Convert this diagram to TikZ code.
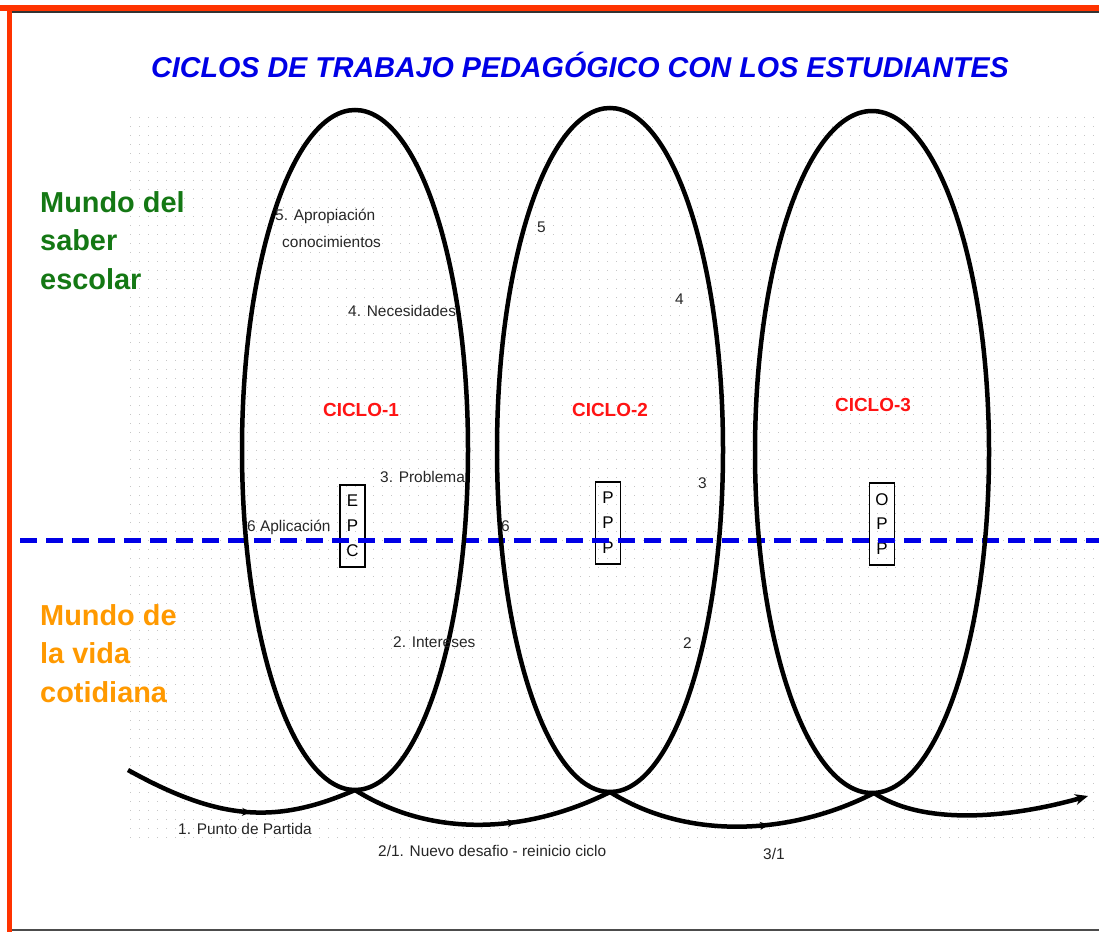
\documentclass[tikz,border=0pt]{standalone}
\usepackage{fontspec}
\setmainfont{Liberation Sans}
\usetikzlibrary{arrows.meta, decorations.markings}

\definecolor{bordred}{RGB}{255,51,0}
\definecolor{titleblue}{RGB}{0,0,230}
\definecolor{saber}{RGB}{20,120,20}
\definecolor{vida}{RGB}{255,153,0}
\definecolor{cicred}{RGB}{255,20,20}

\begin{document}
\begin{tikzpicture} [
						x=1bp, y=-1bp,
						spiral/.style={line width=4.5bp, black},
						midarrow/.style={postaction={decorate}, decoration={markings, mark=at position #1 with {\arrow{Stealth[length=9bp,width=8bp]}}}},
						stage/.style={anchor=base west, inner sep=0pt, text=black!85, font=\fontsize{15.5}{18}\selectfont},
						ciclo/.style={text=cicred, font=\bfseries\fontsize{19}{22}\selectfont},
						mundo/.style={anchor=north west, inner sep=0pt, align=left, font=\bfseries\fontsize{29}{39}\selectfont},
						letters/.style={draw, line width=1.3bp, inner sep=0pt, minimum width=25bp, minimum height=82bp, align=center, font=\fontsize{17}{25}\selectfont},
						divide/.style={titleblue, line width=5bp, dash pattern=on 17bp off 9bp}
					]

\useasboundingbox (0,0) rectangle (1099,932);

\foreach \y in {117,126,...,837}
	\draw[gray!45, line width=1bp, dash pattern=on 1bp off 8bp] (130,\y) -- (1099,\y);

\fill[bordred] (0,5) rectangle (1099,11);
\fill[bordred] (7,5) rectangle (12,932);
\draw[black!80, line width=1.5bp] (12,12) -- (1099,12);
\draw[black!70, line width=2bp] (12,930) -- (1099,930);

\node (title) [text=titleblue, font=\bfseries\itshape\fontsize{28.8}{31}\selectfont] at (580,65) {CICLOS DE TRABAJO PEDAGÓGICO CON LOS ESTUDIANTES};

\node (saber) [mundo, text=saber] at (40,191) {Mundo del\\saber\\escolar};
\node (vida) [mundo, text=vida] at (40,604) {Mundo de\\la vida\\cotidiana};

\node (epc) [letters] at (352.5,526) {E\\P\\C};
\node (ppp) [letters] at (608,523) {P\\P\\P};
\node (opp) [letters] at (882,524) {O\\P\\P};

\coordinate (dl) at (20,540);
\coordinate (dr) at (1099,540);
\draw[divide] (dl) -- (dr);

\coordinate (start) at (128,770);
\coordinate (c1) at (355,790);
\coordinate (c2) at (610,792);
\coordinate (c3) at (874,793);
\coordinate (end) at (1088,796);

\draw[spiral] (355,450) ellipse [x radius=113, y radius=340];
\draw[spiral] (610,450) ellipse [x radius=113, y radius=342];
\draw[spiral] (872,452) ellipse [x radius=117, y radius=341];

\draw[spiral, midarrow=0.55] (start) .. controls +(90,50) and +(-80,35) .. (c1);
\draw[spiral, midarrow=0.63] (c1) .. controls +(80,50) and +(-80,40) .. (c2);
\draw[spiral, midarrow=0.6] (c2) .. controls +(80,50) and +(-80,41) .. (c3);
\draw[spiral, -{Stealth[length=13bp,width=11bp]}] (c3) .. controls +(50,33) and +(-78,22) .. (end);

\node (ciclo1) [ciclo] at (361,410) {CICLO-1};
\node (ciclo2) [ciclo] at (610,410) {CICLO-2};
\node (ciclo3) [ciclo] at (873,405) {CICLO-3};

\node (s5) [stage] at (275,220) {5. Apropiación};
\node (s5b) [stage] at (282,247) {conocimientos};
\node (s4) [stage] at (348,316) {4. Necesidades};
\node (s3) [stage] at (380,482) {3. Problema};
\node (s6) [stage] at (247,531) {6 Aplicación};
\node (s2) [stage] at (393,647) {2. Intereses};
\node (n5) [stage] at (537,232) {5};
\node (n4) [stage] at (675,304) {4};
\node (n3) [stage] at (698,488) {3};
\node (n6) [stage] at (501,531) {6};
\node (n2) [stage] at (683,648) {2};
\node (s1) [stage] at (178,834) {1. Punto de Partida};
\node (s21) [stage] at (378,856) {2/1. Nuevo desafio - reinicio ciclo};
\node (s31) [stage] at (763,859) {3/1};
\end{tikzpicture}
\end{document}
